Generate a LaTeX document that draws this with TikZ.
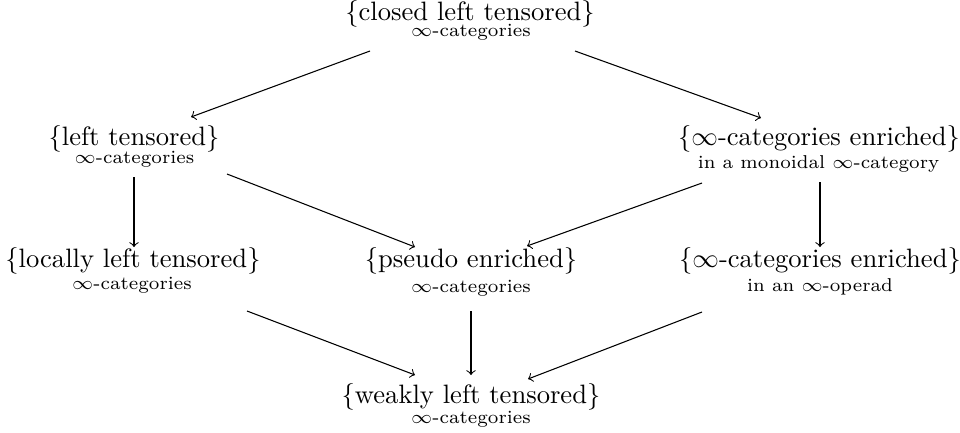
\documentclass[tikz,border=0pt]{standalone}
\usepackage{amssymb}
\begin{document}
\begin{tikzpicture}[x=0.376pt,y=-0.376pt,
  main/.style={anchor=base,inner sep=0pt,font=\normalsize},
  sub/.style={anchor=base,inner sep=0pt,font=\scriptsize},
  arr/.style={->,line width=0.4pt}]
\useasboundingbox (0,0) rectangle (960,432);
% nodes
\node[main] (top) at (470,20.7) {\{closed left tensored\}};
\node[sub] (topS) at (471,36.5) {$\infty$-categories};
\node[main] (lt) at (134,145.5) {\{left tensored\}};
\node[sub] (ltS) at (134.5,163) {$\infty$-categories};
\node[main] (me) at (819,145.3) {\{$\infty$-categories enriched\}};
\node[sub] (meS) at (818.5,168) {in a monoidal $\infty$-category};
\node[main] (llt) at (133,267) {\{locally left tensored\}};
\node[sub] (lltS) at (132,289) {$\infty$-categories};
\node[main] (pe) at (471,267) {\{pseudo enriched\}};
\node[sub] (peS) at (471,292) {$\infty$-categories};
\node[main] (oe) at (820,267) {\{$\infty$-categories enriched\}};
\node[sub] (oeS) at (820,291) {in an $\infty$-operad};
\node[main] (wk) at (471,403) {\{weakly left tensored\}};
\node[sub] (wkS) at (471,423) {$\infty$-categories};
% arrows
\draw[arr] ([shift={(-100,30.3)}]top.base) -- ([shift={(57,-28.5)}]lt.base);
\draw[arr] ([shift={(105,30.3)}]top.base) -- ([shift={(-58,-27.3)}]me.base);
\draw[arr] ([shift={(0,31.5)}]lt.base) -- ([shift={(1,-20)}]llt.base);
\draw[arr] ([shift={(93,28.5)}]lt.base) -- ([shift={(-56,-20)}]pe.base);
\draw[arr] ([shift={(-117,37.7)}]me.base) -- ([shift={(56,-21)}]pe.base);
\draw[arr] ([shift={(1,36.7)}]me.base) -- ([shift={(0,-20)}]oe.base);
\draw[arr] ([shift={(114,44)}]llt.base) -- ([shift={(-56,-28)}]wk.base);
\draw[arr] ([shift={(0,44)}]pe.base) -- ([shift={(0,-28)}]wk.base);
\draw[arr] ([shift={(-118,45)}]oe.base) -- ([shift={(57,-24)}]wk.base);
\end{tikzpicture}
\end{document}
